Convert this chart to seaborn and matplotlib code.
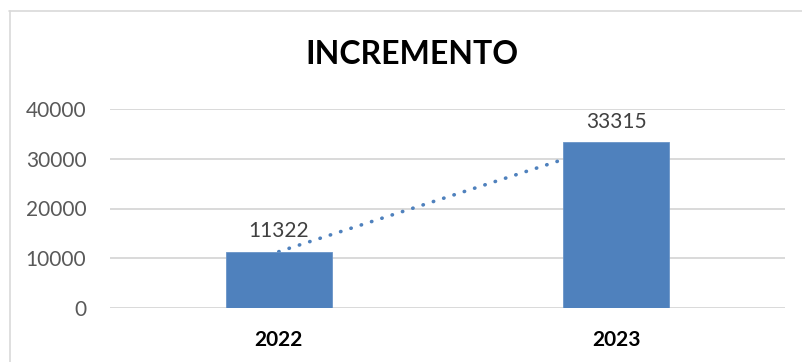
import matplotlib
matplotlib.use("Agg")
import matplotlib.pyplot as plt
from matplotlib.lines import Line2D
import seaborn as sns
import pandas as pd

years = ["2022", "2023"]
values = [11322, 33315]
y_ticks = [0, 10000, 20000, 30000, 40000]

bar_color = "#4F81BD"
grid_color = "#D9D9D9"

sns.set_theme(style="white")
plt.rcParams["font.family"] = ["Lato", "DejaVu Sans"]

df = pd.DataFrame({"year": years, "value": values})

fig = plt.figure(figsize=(8.02, 3.62), dpi=100)
ax = fig.add_axes([110 / 802, 1 - 308 / 362, 675 / 802, 199 / 362])

sns.barplot(data=df, x="year", y="value", color=bar_color, width=0.314,
            saturation=1, ax=ax, zorder=3, edgecolor="#6A95C8", linewidth=0.6)

# linear trend through the two yearly totals
ax.plot([0, 1], values, linestyle=(0, (0.1, 2.9)), dash_capstyle="round",
        color=bar_color, linewidth=2.6, zorder=2)

for i, v in enumerate(values):
    ax.text(i, v + 2100, f"{v}", ha="center", va="bottom", fontsize=15,
            color="#404040")

ax.set_ylim(0, 40000)
ax.set_xlim(-0.5, 1.5)
ax.set_yticks(y_ticks)
ax.set_yticklabels([str(t) for t in y_ticks], fontsize=15, color="#595959")
ax.set_xticks([0, 1])
ax.set_xticklabels(years, fontsize=15, fontweight="bold", color="black")
ax.tick_params(axis="y", length=0, pad=17)
ax.tick_params(axis="x", length=0, pad=16)
ax.set_xlabel("")
ax.set_ylabel("")
for s in ax.spines.values():
    s.set_visible(False)
for t in y_ticks:
    ax.axhline(t, color=grid_color, linewidth=1.4, zorder=1)

fig.text(412 / 802, 1 - 55 / 362, "INCREMENTO", ha="center", va="center",
         fontsize=23, fontweight="bold", color="black")

# chart frame
fig.add_artist(Line2D([9 / 802, 1.0], [1 - 10.5 / 362, 1 - 10.5 / 362],
                      transform=fig.transFigure, color=grid_color, linewidth=1.2))
fig.add_artist(Line2D([9.5 / 802, 9.5 / 802], [0, 1 - 10.5 / 362],
                      transform=fig.transFigure, color=grid_color, linewidth=1.2))

fig.savefig("out.png", dpi=100)
